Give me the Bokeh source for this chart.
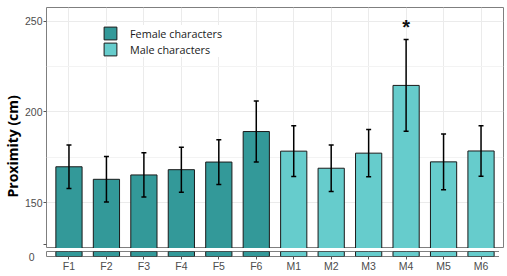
from bokeh.plotting import figure
from bokeh.models import (ColumnDataSource, FactorRange, FixedTicker, Whisker,
                          TeeHead, Legend, LegendItem, Range1d, Title)
from bokeh.layouts import column
from bokeh.embed import file_html
from bokeh.resources import INLINE
from bokeh.core.properties import value

# ---- data ----
categories = ["F1", "F2", "F3", "F4", "F5", "F6", "M1", "M2", "M3", "M4", "M5", "M6"]
groups = ["Female characters"] * 6 + ["Male characters"] * 6
means = [169.8, 162.9, 165.3, 168.2, 172.4, 189.2, 178.4, 169.0, 177.3, 214.6, 172.5, 178.5]
errors = [12.0, 12.5, 12.2, 12.4, 12.3, 16.8, 14.0, 12.8, 13.0, 25.3, 15.4, 13.9]
signif = ["", "", "", "", "", "", "", "", "", "*", "", ""]
y_ticks = [150, 200, 250]
y_minor = [175, 225]
break_tick = 127
low_ticks = [0]
y_title = "Proximity  (cm)"

FEMALE = "#339999"
MALE = "#66CCCC"
TICK_COL = "#4D4D4D"
BORDER = "#7F7F7F"
FONT = "Liberation Sans"

upper = [m + e for m, e in zip(means, errors)]
lower = [m - e for m, e in zip(means, errors)]
star_y = [u + 7 for u in upper]

src = ColumnDataSource(dict(x=categories, mean=means, upper=upper, lower=lower,
                            sig=signif, star_y=star_y))
src_f = ColumnDataSource(dict(x=categories[:6], mean=means[:6]))
src_m = ColumnDataSource(dict(x=categories[6:], mean=means[6:]))

x_range = FactorRange(factors=categories, range_padding=0.2 / 12, range_padding_units="percent")

# ---- upper panel ----
top = figure(x_range=x_range, y_range=Range1d(124.8, 257.5),
             frame_width=457, frame_height=241,
             min_border_left=40, min_border_right=2, min_border_top=7, min_border_bottom=0,
             x_axis_location=None, output_backend="svg", toolbar_location=None)
top.outline_line_color = BORDER
top.outline_line_width = 1

top.ygrid.ticker = FixedTicker(ticks=y_ticks, minor_ticks=y_minor)
top.ygrid.grid_line_color = "#EBEBEB"
top.ygrid.minor_grid_line_color = "#F3F3F3"
top.xgrid.grid_line_color = "#EBEBEB"

ax = top.yaxis[0]
ax.ticker = FixedTicker(ticks=[break_tick] + y_ticks)
ax.major_label_overrides = {break_tick: ""}
ax.axis_line_color = None
ax.major_tick_line_color = "#555555"
ax.major_tick_in = 0
ax.major_tick_out = 3
ax.minor_tick_line_color = None
ax.major_label_standoff = 1
ax.major_label_text_font = FONT
ax.major_label_text_font_size = "10.5px"
ax.major_label_text_color = TICK_COL

top.add_layout(Title(text=y_title, align="left", offset=51, standoff=0,
                     text_font="Open Sans", text_font_style="bold",
                     text_font_size="14px", text_color="black"), "left")

rf = top.vbar(x="x", top="mean", bottom=0, width=0.7, source=src_f,
              fill_color=FEMALE, line_color="#1A1A1A", line_width=1)
rm = top.vbar(x="x", top="mean", bottom=0, width=0.7, source=src_m,
              fill_color=MALE, line_color="#1A1A1A", line_width=1)

wh = Whisker(base="x", upper="upper", lower="lower", source=src, level="overlay",
             line_color="black", line_width=1.5,
             upper_head=TeeHead(size=5, line_width=1.5, line_color="black"),
             lower_head=TeeHead(size=5, line_width=1.5, line_color="black"))
top.add_layout(wh)

top.text(x="x", y="star_y", text="sig", source=src, text_font=value(FONT),
         text_font_style="bold", text_font_size="20px", text_align="center",
         text_baseline="middle", text_color="#111111")

legend = Legend(items=[LegendItem(label=groups[0], renderers=[rf]),
                       LegendItem(label=groups[6], renderers=[rm])],
                location=(56, 191), orientation="vertical")
legend.glyph_width = 16
legend.glyph_height = 16
legend.label_height = 16
legend.spacing = 0
legend.padding = 7
legend.margin = 0
legend.label_standoff = 12
legend.label_text_font = "Open Sans"
legend.label_text_font_size = "10.8px"
legend.label_text_color = "#1A1A1A"
legend.border_line_color = None
legend.background_fill_color = "white"
legend.background_fill_alpha = 1
top.add_layout(legend)

# ---- lower panel (below the axis break) ----
bot = figure(x_range=x_range, y_range=Range1d(0, 10),
             frame_width=457, frame_height=5,
             min_border_left=40, min_border_right=2, min_border_top=3, min_border_bottom=0,
             output_backend="svg", toolbar_location=None)
bot.outline_line_color = BORDER
bot.outline_line_width = 1
bot.ygrid.grid_line_color = None
bot.xgrid.grid_line_color = "#EBEBEB"

bot.vbar(x="x", top="mean", bottom=0, width=0.7, source=src_f,
         fill_color=FEMALE, line_color="#1A1A1A", line_width=1)
bot.vbar(x="x", top="mean", bottom=0, width=0.7, source=src_m,
         fill_color=MALE, line_color="#1A1A1A", line_width=1)

by = bot.yaxis[0]
by.ticker = FixedTicker(ticks=low_ticks)
by.axis_line_color = None
by.major_tick_line_color = None
by.minor_tick_line_color = None
by.major_label_standoff = 6
by.major_label_text_font = FONT
by.major_label_text_font_size = "10.5px"
by.major_label_text_color = TICK_COL
by.major_label_text_baseline = "top"

bx = bot.xaxis[0]
bx.axis_line_color = None
bx.major_tick_line_color = "#555555"
bx.major_tick_in = 0
bx.major_tick_out = 3
bx.major_label_standoff = 0
bx.major_label_text_font = FONT
bx.major_label_text_font_size = "10.5px"
bx.major_label_text_color = TICK_COL

layout = column(top, bot, spacing=0)
open("out.html", "w").write(file_html(layout, INLINE))
